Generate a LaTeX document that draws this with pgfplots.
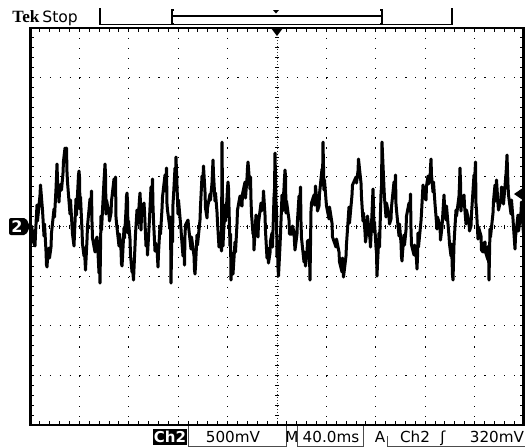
\documentclass[border=0pt]{standalone}
\usepackage{pgfplots}
\pgfplotsset{compat=1.18}
\usepackage{fontspec}
\setmainfont{DejaVu Sans}
\newfontfamily\tekfont{Liberation Serif}
\begin{document}
\begin{tikzpicture}[x=0.5pt,y=-0.5pt]
\useasboundingbox (0,0) rectangle (525,447);
\fill[white] (0,0) rectangle (525,447);
% graticule (screen pixels)
\foreach \gx in {79.4,128.8,178.2,227.6,326.4,375.8,425.2,474.6}
  \draw[black, line width=0.55pt, dash pattern=on 0.55pt off 4.425pt] (\gx,28) -- (\gx,425);
\foreach \gy in {77.6,127.3,176.9,276.1,325.8,375.4}
  \draw[black, line width=0.55pt, dash pattern=on 0.55pt off 4.39pt] (30,\gy) -- (524,\gy);
\draw[black!80, line width=0.5pt, dash pattern=on 0.5pt off 1pt] (277,28) -- (277,425);
\draw[black!80, line width=0.5pt, dash pattern=on 0.5pt off 1pt] (30,226.5) -- (524,226.5);
\foreach \j in {1,...,49} {
  \pgfmathsetmacro\xx{30+9.88*\j}
  \draw[line width=0.5pt] (\xx,28) -- (\xx,32);
  \draw[line width=0.5pt] (\xx,421) -- (\xx,425);
  \draw[line width=0.5pt] (\xx,224.5) -- (\xx,228.5);
}
\foreach \j in {1,...,39} {
  \pgfmathsetmacro\yy{28+9.925*\j}
  \draw[line width=0.5pt] (30,\yy) -- (34,\yy);
  \draw[line width=0.5pt] (520,\yy) -- (524,\yy);
  \draw[line width=0.5pt] (275,\yy) -- (279,\yy);
}
\draw[line width=1.4pt] (30.5,28) rectangle (523.5,425);
% trace
\begin{scope}[x=1pt,y=1pt]
\begin{axis}[at={(15pt,-14pt)}, anchor=north west, scale only axis,
  width=247pt, height=198.5pt, xmin=30, xmax=524, ymin=28, ymax=425,
  y dir=reverse, hide axis]
\addplot[black, line width=1.5pt, line join=round] coordinates {
(30,222)(30.5,232)(31,240)(31.5,226)(33,234)(33.5,242)(35,246)(35.5,234)(37,205)(37.5,221)
(40,195)(40.5,185)(42,204)(42.5,210)(44,236)(44.5,224)(46,251)(46.5,265)(47,267)(47.5,259)
(49,248)(49.5,258)(51,247)(51.5,233)(54,209)(54.5,217)(56,189)(56.5,177)(57,164)(57.5,180)
(59,202)(59.5,192)(61,184)(61.5,190)(63,173)(63.5,161)(65,148)(65.5,162)(66,156)(66.5,148)
(67,172)(67.5,182)(70,214)(70.5,200)(72,226)(72.5,234)(74,246)(74.5,234)(76,199)(76.5,215)
(78,185)(78.5,175)(79,171)(79.5,177)(80,209)(80.5,197)(82,230)(82.5,244)(84,256)(84.5,248)
(85,260)(85.5,270)(87,240)(87.5,226)(90,199)(90.5,207)(91,203)(91.5,191)(92,222)(92.5,238)
(95,252)(95.5,242)(97,237)(97.5,243)(99,273)(99.5,261)(100,283)(101,216)(101.5,230)
(104,181)(104.5,173)(105,164)(105.5,174)(106,214)(106.5,200)(109,213)(109.5,221)(111,213)(111.5,201)
(114,179)(114.5,195)(115,187)(115.5,177)(116,217)(116.5,223)(119,246)(119.5,234)(121,250)(121.5,264)
(122,266)(122.5,258)(124,228)(124.5,238)(126,210)(126.5,196)(127,193)(127.5,201)(128,233)(128.5,221)
(130,239)(130.5,255)(132,272)(132.5,262)(133,274)(133.5,280)(135,246)(135.5,234)(137,210)(137.5,224)
(139,207)(139.5,199)(140,193)(140.5,203)(141,230)(141.5,216)(144,203)(144.5,211)(146,246)(146.5,234)
(147,239)(147.5,255)(149,228)(149.5,218)(151,187)(151.5,193)(152,191)(152.5,179)(153,206)(153.5,220)
(155,251)(155.5,243)(157,248)(157.5,258)(158,267)(158.5,253)(160,226)(160.5,234)(162,209)(162.5,197)
(165,175)(165.5,191)(166,178)(166.5,168)(167,204)(167.5,210)(170,229)(170.5,217)(171,283)
(172,228)(172.5,242)(173,204)(173.5,196)(175,168)(175.5,178)(176,157)(178,214)(178.5,200)
(181,229)(181.5,237)(183,256)(183.5,244)(184,249)(184.5,265)(185,235)(185.5,225)(188,220)(188.5,226)
(191,249)(191.5,237)(194,256)(194.5,270)(195,274)(195.5,266)(197,235)(197.5,245)(200,220)(200.5,206)
(202,176)(202.5,184)(203,178)(203.5,166)(205,192)(205.5,208)(207,218)(207.5,208)(210,194)(210.5,200)
(212,183)(212.5,171)(213,160)(213.5,174)(215,201)(215.5,193)(217,212)(217.5,222)(219,247)(219.5,233)
(221,243)(221.5,251)(222,142)(223,246)(223.5,234)(225,205)(225.5,221)(227,198)(227.5,188)
(228,182)(228.5,188)(230,246)(230.5,234)(231,280)(232,253)(232.5,267)(233,274)(233.5,266)
(235,242)(235.5,252)(237,224)(237.5,210)(240,196)(240.5,204)(242,206)(242.5,194)(245,182)(245.5,198)
(247,178)(247.5,168)(248,162)(248.5,168)(250,189)(250.5,177)(251,200)(251.5,214)(253,234)(253.5,226)
(254,250)(256,215)(256.5,225)(258,237)(258.5,223)(261,203)(261.5,211)(263,203)(263.5,191)
(265,215)(265.5,231)(267,258)(267.5,248)(268,257)(268.5,263)(270,253)(270.5,241)(272,233)(272.5,247)
(274,197)(274.5,189)(275,153)(276,202)(276.5,212)(277,257)(277.5,243)(278,268)(278.5,276)
(280,246)(280.5,234)(282,195)(282.5,211)(284,188)(284.5,178)(285,170)(285.5,176)(286,213)(286.5,201)
(289,220)(289.5,234)(292,234)(292.5,226)(294,232)(294.5,242)(295,250)(297,234)(297.5,220)
(299,196)(299.5,204)(300,199)(300.5,187)(301,222)(301.5,238)(304,262)(304.5,252)(305,260)(305.5,266)
(307,253)(307.5,241)(309,240)(309.5,254)(310,280)(311,211)(311.5,203)(314,195)(314.5,205)
(315,200)(315.5,186)(317,203)(317.5,211)(319,206)(319.5,194)(322,169)(322.5,185)(323,142)
(324,190)(324.5,180)(326,200)(326.5,206)(329,219)(329.5,207)(332,223)(332.5,237)(336,247)(336.5,239)
(339,252)(339.5,262)(342,272)(342.5,258)(343,269)(343.5,277)(346,256)(346.5,244)(349,207)(349.5,223)
(352,195)(352.5,185)(356,177)(356.5,183)(358,171)(358.5,159)(361,183)(361.5,197)(363,221)(363.5,213)
(365,232)(365.5,242)(367,230)(367.5,216)(370,239)(370.5,247)(372,213)(372.5,201)(373,189)(373.5,205)
(374,232)(374.5,222)(376,247)(376.5,253)(377,276)(377.5,264)(379,233)(379.5,247)(381,194)(381.5,186)
(382,142)(384,188)(384.5,198)(386,217)(386.5,203)(389,216)(389.5,224)(391,219)(391.5,207)
(394,182)(394.5,198)(395,185)(395.5,175)(396,204)(396.5,210)(399,236)(399.5,224)(401,243)(401.5,257)
(402,261)(402.5,253)(404,235)(404.5,245)(406,230)(406.5,216)(409,203)(409.5,211)(410,206)(410.5,194)
(411,229)(411.5,245)(414,255)(414.5,245)(416,254)(416.5,260)(417,269)(417.5,257)(418,233)(418.5,247)
(421,221)(421.5,213)(423,185)(423.5,195)(426,200)(426.5,186)(428,176)(428.5,184)(430,179)(430.5,167)
(431,159)(431.5,175)(433,192)(433.5,182)(435,204)(435.5,210)(437,229)(437.5,217)(440,226)(440.5,240)
(442,227)(442.5,219)(444,195)(444.5,205)(446,220)(446.5,206)(449,236)(449.5,244)(451,256)(451.5,244)
(452,259)(452.5,275)(453,280)(454,245)(454.5,235)(456,210)(456.5,216)(459,196)(459.5,184)
(460,168)(460.5,182)(461,211)(461.5,203)(464,195)(464.5,205)(466,224)(466.5,210)(469,223)(469.5,231)
(471,226)(471.5,214)(474,175)(474.5,191)(475,172)(475.5,162)(476,204)(476.5,210)(478,239)(478.5,227)
(481,236)(481.5,250)(483,252)(483.5,244)(485,242)(485.5,252)(488,260)(488.5,246)(489,280)
(490,229)(490.5,237)(493,213)(493.5,201)(495,185)(495.5,201)(496,190)(496.5,180)(498,204)(498.5,210)
(501,199)(501.5,187)(503,190)(503.5,204)(506,174)(506.5,166)(507,155)(508,185)(508.5,195)
(511,214)(511.5,200)(513,219)(513.5,227)(515,249)(515.5,237)(518,215)(518.5,231)(521,212)(521.5,202)
(523,227)(523.5,233)
};
\end{axis}
\end{scope}
% screen markers
\fill (271,28) -- (283,28) -- (277,36) -- cycle;
\fill[rounded corners=1pt] (9,218) -- (26,218) -- (30,226.5) -- (26,235) -- (9,235) -- cycle;
\node[white, font=\bfseries\fontsize{8}{8}\selectfont, inner sep=0pt] at (17,226.5) {2};
\fill (514,194) -- (522,188.5) -- (522,199.5) -- cycle;
% top status bar
\node[anchor=base west, inner sep=0pt, font=\tekfont\bfseries\fontsize{8.6}{8}\selectfont] at (12,22) {Tek};
\node[anchor=base west, inner sep=0pt, font=\fontsize{7.8}{8}\selectfont] at (42,22) {Stop};
\draw[line width=0.7pt] (100,8) -- (100,24.5) -- (452,24.5) -- (452,8);
\draw[line width=0.6pt] (174,10) -- (172,10) -- (172,24) -- (174,24);
\draw[line width=0.6pt] (380,10) -- (382,10) -- (382,24) -- (380,24);
\draw[line width=0.6pt] (172,16) -- (382,16);
\fill (273,10) -- (279,10) -- (276,13.5) -- cycle;
% bottom readout
\fill (153,429) rectangle (187,445);
\node[white, anchor=base, inner sep=0pt, font=\bfseries\fontsize{7.5}{8}\selectfont] at (170,442) {Ch2};
\draw[black!70, line width=0.5pt] (188,426) -- (188,446) -- (286,446) -- (286,426);
\draw[black!70, line width=0.5pt] (297,426) -- (297,446) -- (363,446) -- (363,426);
\draw[black!70, line width=0.5pt] (387,436) -- (387,446) -- (525,446);
\begin{scope}[every node/.style={anchor=base, inner sep=0pt, font=\fontsize{7.6}{8}\selectfont}]
\node at (233,442) {500mV};
\node at (292,442) {M};
\node at (331,442) {40.0ms};
\node at (380,442) {A};
\node at (415,442) {Ch2};
\node at (443,442) {ʃ};
\node at (497,442) {320mV};
\end{scope}
\end{tikzpicture}
\end{document}
